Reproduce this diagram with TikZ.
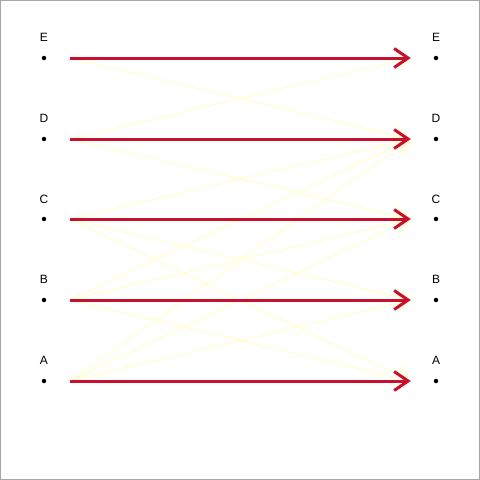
\documentclass[tikz,border=0pt]{standalone}
\usepackage{fontspec}
\setmainfont{Liberation Sans}
\usetikzlibrary{arrows.meta, positioning}
\definecolor{flowred}{RGB}{200,16,46}
\definecolor{flowyellow}{RGB}{255,255,196}
\tikzstyle{dot} = [circle, fill=black, inner sep=0pt, minimum size=4.5pt]
\tikzstyle{lab} = [inner sep=0pt, font=\fontsize{12}{12}\selectfont]
\tikzstyle{pt} = [inner sep=0pt, minimum size=0pt]
\tikzstyle{stay} = [draw=flowred, line width=3pt, -{Straight Barb[length=14pt, width=19pt]}]
\tikzstyle{move} = [draw=flowyellow, line width=0.9pt, -{Straight Barb[length=15pt, width=20pt]}]

\begin{document}
\begin{tikzpicture}[x=1pt, y=-1pt]
  \useasboundingbox (0,0) rectangle (480,480);
  \draw[gray!70, line width=1pt] (0.5,0.5) rectangle (479.5,479.5);

  % 左侧状态
  \node[lab] (lE) at (44,37) {E};
  \node[lab] (lD) at (44,118) {D};
  \node[lab] (lC) at (44,199) {C};
  \node[lab] (lB) at (44,279) {B};
  \node[lab] (lA) at (44,360) {A};
  \node[dot] (dE) at (44,58) {};
  \node[dot] (dD) at (44,139) {};
  \node[dot] (dC) at (44,219) {};
  \node[dot] (dB) at (44,300) {};
  \node[dot] (dA) at (44,381) {};

  % 右侧状态
  \node[lab] (rE) at (436,37) {E};
  \node[lab] (rD) at (436,118) {D};
  \node[lab] (rC) at (436,199) {C};
  \node[lab] (rB) at (436,279) {B};
  \node[lab] (rA) at (436,360) {A};
  \node[dot] (eE) at (436,58) {};
  \node[dot] (eD) at (436,139) {};
  \node[dot] (eC) at (436,219) {};
  \node[dot] (eB) at (436,300) {};
  \node[dot] (eA) at (436,381) {};

  % 箭头端点
  \node[pt] (sE) at (70,58) {};
  \node[pt] (sD) at (70,139) {};
  \node[pt] (sC) at (70,219) {};
  \node[pt] (sB) at (70,300) {};
  \node[pt] (sA) at (70,381) {};
  \node[pt] (tE) at (411,58) {};
  \node[pt] (tD) at (411,139) {};
  \node[pt] (tC) at (411,219) {};
  \node[pt] (tB) at (411,300) {};
  \node[pt] (tA) at (411,381) {};

  % 状态转移
  \draw[move] (sE) -- (tD);
  \draw[move] (sD) -- (tE);
  \draw[move] (sD) -- (tC);
  \draw[move] (sC) -- (tD);
  \draw[move] (sC) -- (tB);
  \draw[move] (sC) -- (tA);
  \draw[move] (sB) -- (tD);
  \draw[move] (sB) -- (tC);
  \draw[move] (sB) -- (tA);
  \draw[move] (sA) -- (tD);
  \draw[move] (sA) -- (tC);
  \draw[move] (sA) -- (tB);

  % 保持不变
  \draw[stay] (sE) -- (tE);
  \draw[stay] (sD) -- (tD);
  \draw[stay] (sC) -- (tC);
  \draw[stay] (sB) -- (tB);
  \draw[stay] (sA) -- (tA);
\end{tikzpicture}
\end{document}
